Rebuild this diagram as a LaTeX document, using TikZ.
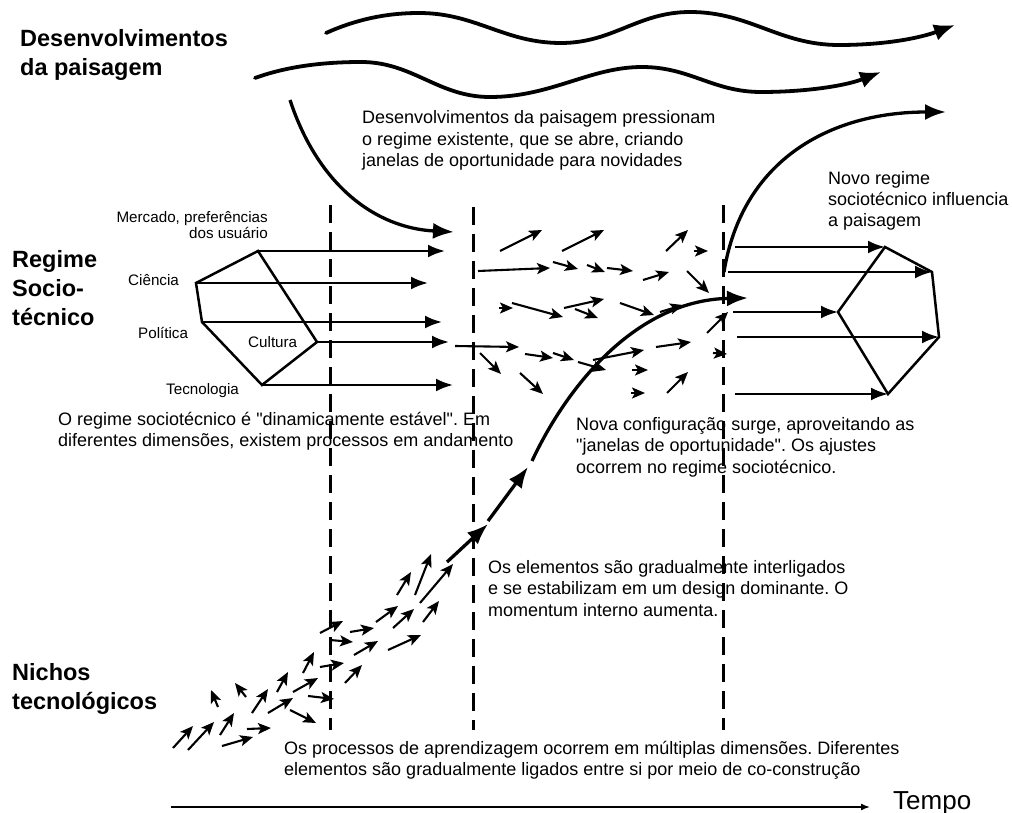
\documentclass[tikz,border=0pt]{standalone}
\usepackage{fontspec}
\setmainfont{Liberation Sans}[Ligatures=TeXOff]
\usetikzlibrary{arrows.meta}
\frenchspacing

\begin{document}
\begin{tikzpicture}[x=1pt,y=1pt,
  wave/.style={line width=3.8pt, line cap=round, -{Latex[length=21pt,width=17pt]}},
  bigarr/.style={line width=3.3pt, -{Latex[length=21pt,width=16pt]}},
  regarr/.style={line width=2.5pt, -{Latex[length=17pt,width=13pt]}},
  facet/.style={line width=2.5pt, line join=miter},
  sarr/.style={line width=2.1pt, -{Stealth[length=13pt,width=11pt,inset=3pt]}},
  phase/.style={line width=3pt, dash pattern=on 18pt off 9pt},
  header/.style={font=\bfseries\fontsize{23.5}{29}\selectfont, anchor=base west, align=left, inner sep=0pt},
  body/.style={font=\fontsize{18}{21.5}\selectfont, anchor=base west, align=left, inner sep=0pt},
  lbl/.style={font=\fontsize{15.2}{17}\selectfont, inner sep=0pt},
]
\useasboundingbox (0,0) rectangle (1012,-813);

% ---------- level headings (anchored at the baseline of the last line) ----------
\node[header] (hland) at (20,-76) {Desenvolvimentos\\da paisagem};
\node[header] (hreg) at (12,-325) {Regime\\Socio-\\técnico};
\node[header] (hniche) at (12,-709) {Nichos\\tecnológicos};

% ---------- landscape waves ----------
\draw[wave] (326,-33) .. controls (355,-20) and (385,-13) .. (419,-13)
  .. controls (476,-13) and (504,-43) .. (561,-43)
  .. controls (613,-43) and (638,-12) .. (690,-12)
  .. controls (750,-12) and (779,-45) .. (839,-45)
  .. controls (885,-45) and (920,-38) .. (955,-25);
\draw[wave] (255,-78) .. controls (288,-66) and (325,-62) .. (361,-62)
  .. controls (413,-62) and (438,-97) .. (490,-97)
  .. controls (551,-97) and (590,-67) .. (642,-67)
  .. controls (690,-67) and (713,-92) .. (761,-92)
  .. controls (805,-92) and (845,-86) .. (881,-72);

% landscape pressure on the regime
\coordinate (pstart) at (290,-100);
\coordinate (pend) at (454,-232);
\draw[bigarr] (pstart) .. controls (318,-185) and (375,-228) .. (pend);

% ---------- phase separators ----------
\coordinate (d1t) at (330,-205); \coordinate (d1b) at (330,-730);
\coordinate (d2t) at (473,-207); \coordinate (d2b) at (473,-730);
\coordinate (d3t) at (723,-205); \coordinate (d3b) at (723,-730);
\draw[phase] (d1t) -- (d1b);
\draw[phase] (d2t) -- (d2b);
\draw[phase] (d3t) -- (d3b);

% ---------- existing regime ----------
\coordinate (lA) at (258,-251);
\coordinate (lB) at (196,-283);
\coordinate (lC) at (202,-322);
\coordinate (lD) at (262,-385);
\coordinate (lE) at (317,-342);
\draw[facet] (lA) -- (lB) -- (lC) -- (lD) -- (lE) -- cycle;
\coordinate (eA) at (445,-251);
\coordinate (eB) at (428,-283);
\coordinate (eC) at (442,-322);
\coordinate (eE) at (449,-342);
\coordinate (eD) at (453,-385);
\draw[regarr] (lA) -- (eA);
\draw[regarr] (lB) -- (eB);
\draw[regarr] (lC) -- (eC);
\draw[regarr] (lE) -- (eE);
\draw[regarr] (lD) -- (eD);

\node[lbl, anchor=base east, align=right] (lmarket) at (268,-239) {Mercado, preferências\\dos usuário};
\node[lbl, anchor=base west] (lsci) at (128,-285) {Ciência};
\node[lbl, anchor=base west] (lpol) at (138,-338) {Política};
\node[lbl, anchor=base west] (lcul) at (248,-347) {Cultura};
\node[lbl, anchor=base west] (ltec) at (166,-394) {Tecnologia};

% ---------- unsettled regime: scattered trajectories ----------
\foreach \ax/\ay/\bx/\by in {
  500/251/542/230, 562/251/604/230, 478/271/550/268, 553/262/578/269,
  587/265/605/272, 607/268/633/271, 643/280/669/272, 666/251/688/230,
  694/251/708/251, 687/271/709/293, 499/308/513/308, 512/303/563/317,
  564/308/604/299, 575/309/598/318, 620/303/654/315, 660/312/683/305,
  707/333/728/312, 713/353/727/354, 455/346/519/347, 480/353/501/374,
  525/354/553/358, 553/353/574/360, 578/362/606/370, 593/360/644/350,
  656/347/691/342, 632/370/648/370, 520/373/543/394, 631/393/645/393,
  667/393/688/372}
  \draw[sarr] (\ax,-\ay) -- (\bx,-\by);

% ---------- niche: scattered learning processes ----------
\foreach \ax/\ay/\bx/\by in {
  173/748/193/726, 188/750/214/722, 220/735/234/713, 222/746/253/737,
  247/729/271/728, 218/707/211/690, 246/697/235/683, 252/713/268/689,
  268/713/293/698, 277/692/288/672, 290/710/316/723, 293/692/318/678,
  303/673/314/652, 308/696/334/699, 320/667/344/663, 320/633/343/621,
  330/640/353/642, 345/683/362/665, 350/632/374/628, 354/655/378/641,
  376/622/398/606, 388/650/421/635, 393/628/414/609, 397/595/411/572,
  415/595/431/554, 420/603/453/564, 423/622/439/601}
  \draw[sarr] (\ax,-\ay) -- (\bx,-\by);

% ---------- emerging configuration ----------
\coordinate (s0) at (447,-562);
\coordinate (s1) at (488,-524);
\coordinate (s2) at (488,-521);
\coordinate (s3) at (528,-467);
\coordinate (s4) at (532,-461);
\coordinate (s5) at (748,-298);
\draw[bigarr] (s0) -- (s1);
\draw[bigarr] (s2) -- (s3);
\draw[bigarr] (s4) .. controls (570,-380) and (640,-300) .. (s5);

% new regime influences the landscape
\coordinate (r0) at (724,-272);
\coordinate (r1) at (946,-112);
\draw[bigarr] (r0) .. controls (742,-160) and (830,-112) .. (r1);

% ---------- new regime ----------
\coordinate (rP) at (885,-247);
\coordinate (rQ) at (932,-272);
\coordinate (rR) at (939,-337);
\coordinate (rS) at (888,-394);
\coordinate (rT) at (838,-312);
\draw[facet] (rP) -- (rQ) -- (rR) -- (rS) -- (rT) -- cycle;
\coordinate (fP) at (735,-247);
\coordinate (fQ) at (728,-272);
\coordinate (fT) at (733,-312);
\coordinate (fR) at (737,-337);
\coordinate (fS) at (735,-394);
\draw[regarr] (fP) -- (rP);
\draw[regarr] (fQ) -- (rQ);
\draw[regarr] (fT) -- (rT);
\draw[regarr] (fR) -- (rR);
\draw[regarr] (fS) -- (rS);

% ---------- explanatory texts (anchored at the baseline of the last line) ----------
\node[body] (tland) at (362,-167) {Desenvolvimentos da paisagem pressionam\\o regime existente, que se abre, criando\\janelas de oportunidade para novidades};
\node[body] (tnew) at (828,-227) {Novo regime\\sociotécnico influencia\\a paisagem};
\node[body] (tstable) at (58,-446.5) {O regime sociotécnico é "dinamicamente estável". Em\\diferentes dimensões, existem processos em andamento};
\node[body] (twin) at (576,-473) {Nova configuração surge, aproveitando as\\"janelas de oportunidade". Os ajustes\\ocorrem no regime sociotécnico.};
\node[body] (tlink) at (488,-616) {Os elementos são gradualmente interligados\\e se estabilizam em um design dominante. O\\momentum interno aumenta.};
\node[body] (tlearn) at (284,-775.5) {Os processos de aprendizagem ocorrem em múltiplas dimensões. Diferentes\\elementos são gradualmente ligados entre si por meio de co-construção};

% ---------- time axis ----------
\coordinate (t0) at (171,-807);
\coordinate (t1) at (870,-807);
\draw[line width=1.6pt, -{Latex[length=9pt,width=7pt]}] (t0) -- (t1);
\node[font=\fontsize{26}{30}\selectfont, anchor=base west, inner sep=0pt] (ttime) at (893,-809) {Tempo};
\end{tikzpicture}
\end{document}
